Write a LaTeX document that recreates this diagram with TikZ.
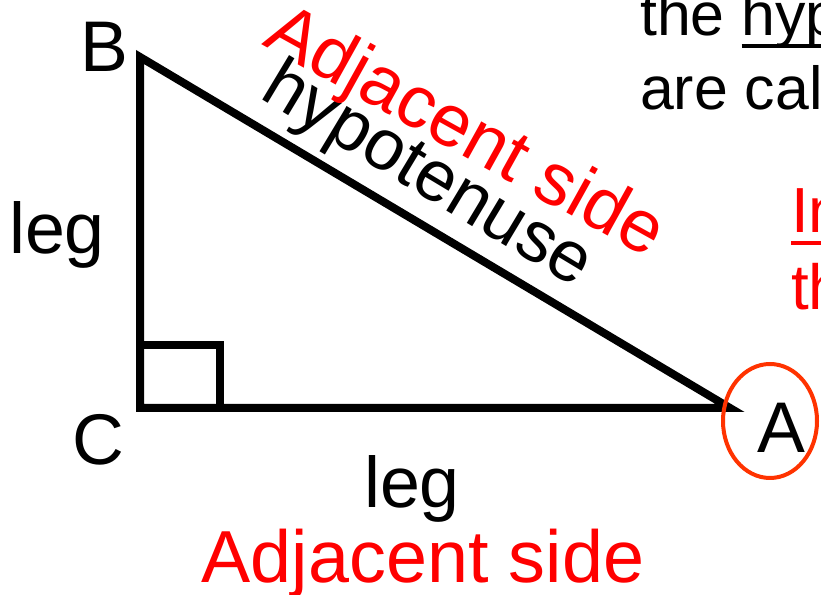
\documentclass[tikz,border=0pt]{standalone}
\usepackage{fontspec}
\setmainfont{Liberation Sans}
\usetikzlibrary{positioning}
\definecolor{ringred}{RGB}{255,51,0}
\newcommand\thickul[1]{\setbox0=\hbox{#1}\rlap{\rule[-0.19em]{\wd0}{0.065em}}\box0}
\tikzset{
  side/.style   ={line width=8bp, line join=miter},
  lbl/.style    ={font=\fontsize{72}{80}\selectfont, inner sep=0pt},
  rlbl/.style   ={font=\fontsize{74}{80}\selectfont, inner sep=0pt, text=red},
  note/.style   ={font=\fontsize{61}{72}\selectfont, inner sep=0pt, anchor=base west},
  rnote/.style  ={font=\fontsize{64}{72}\selectfont, inner sep=0pt, anchor=base west, text=red},
}

\begin{document}
\begin{tikzpicture}[x=1bp, y=1bp]
  \clip (0,0) rectangle (821,595);
  \coordinate (B) at (140,538);
  \coordinate (C) at (140,187);
  \coordinate (A) at (730,187);
  \draw[side] (B) -- (C) -- (A) -- cycle;
  \draw[side] (C) rectangle (220,250);
  % vertex and side labels
  \node[lbl] (labB) at (104,548) {B};
  \node[lbl] (labC) at (98,155) {C};
  \node[lbl] (labA) at (781,167) {A};
  \draw[ringred, line width=4bp] (labA.center) ++(-11,7) ellipse (47 and 57);
  \node[lbl] (legL) at (57,360) {leg};
  \node[lbl, anchor=base] (legB) at (412,87) {leg};
  \node[rlbl, anchor=base] (adjB) at (423,12) {Adjacent side};
  \node[lbl, anchor=base west, rotate=-31] (hyp) at (258,498) {hypotenuse};
  \node[rlbl, anchor=base west, rotate=-29] (adjH) at (261,551) {Adjacent side};
  % text at the right edge
  \node[note] (t1) at (640,559) {the \thickul{hyp}};
  \node[note] (t2) at (640,485) {are cal};
  \node[rnote] (r1) at (791,362) {\thickul{In}};
  \node[rnote] (r2) at (791,285) {th};
\end{tikzpicture}
\end{document}
